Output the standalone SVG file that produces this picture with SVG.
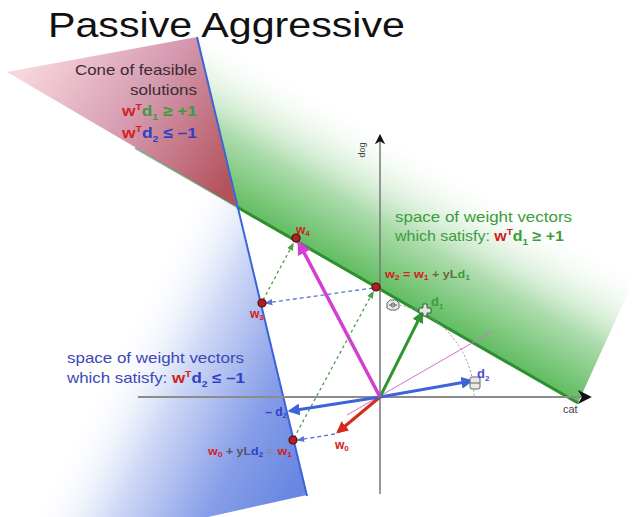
<svg xmlns="http://www.w3.org/2000/svg" width="637" height="517" viewBox="0 0 637 517">
<style>
text{font-family:"Liberation Sans",Arial,sans-serif}
.b{font-weight:bold}
.r{fill:#d42020}
.g{fill:#3c9c3c}
.bl{fill:#3040c4}
.dk{fill:#555566}
.dot{fill:#b02020;stroke:#4a0c0c;stroke-width:1.2}
.icon{fill:#e8e8e8;stroke:#666;stroke-width:1}
</style>
<defs>
<linearGradient id="gGreen" gradientUnits="userSpaceOnUse" x1="237" y1="207" x2="315" y2="70">
<stop offset="0" stop-color="#62bd62"/>
<stop offset="0.38" stop-color="#addcad"/>
<stop offset="0.9" stop-color="#ffffff" stop-opacity="0"/>
</linearGradient>
<linearGradient id="gBlue" gradientUnits="userSpaceOnUse" x1="300" y1="470" x2="80" y2="360">
<stop offset="0" stop-color="#6a88e2"/>
<stop offset="0.25" stop-color="#869de8"/>
<stop offset="0.6" stop-color="#d0daf6"/>
<stop offset="0.9" stop-color="#ffffff" stop-opacity="0"/>
</linearGradient>
<linearGradient id="gCone" gradientUnits="userSpaceOnUse" x1="30" y1="60" x2="225" y2="190">
<stop offset="0" stop-color="#f7d6dc"/>
<stop offset="0.5" stop-color="#d59ab0"/>
<stop offset="1" stop-color="#b4525c"/>
</linearGradient>
<marker id="aRed" viewBox="0 0 10 10" refX="8" refY="5" markerWidth="4" markerHeight="4" orient="auto"><path d="M0,0 L10,5 L0,10 z" fill="#d42a1a"/></marker>
<marker id="aBlue" viewBox="0 0 10 10" refX="8" refY="5" markerWidth="4" markerHeight="4" orient="auto"><path d="M0,0 L10,5 L0,10 z" fill="#3c64d8"/></marker>
<marker id="aGreen" viewBox="0 0 10 10" refX="8" refY="5" markerWidth="4" markerHeight="4" orient="auto"><path d="M0,0 L10,5 L0,10 z" fill="#2f962f"/></marker>
<marker id="aMag" viewBox="0 0 10 10" refX="8" refY="5" markerWidth="4" markerHeight="4" orient="auto"><path d="M0,0 L10,5 L0,10 z" fill="#d23fd2"/></marker>
<marker id="aDB" viewBox="0 0 10 10" refX="8" refY="5" markerWidth="6" markerHeight="6" orient="auto"><path d="M0,1 L10,5 L0,9 z" fill="#5a74d0"/></marker>
<marker id="aDG" viewBox="0 0 10 10" refX="8" refY="5" markerWidth="6" markerHeight="6" orient="auto"><path d="M0,1 L10,5 L0,9 z" fill="#4c9e4c"/></marker>
<marker id="aAx" viewBox="0 0 10 10" refX="8" refY="5" markerWidth="7" markerHeight="7" orient="auto"><path d="M0,0 L10,5 L0,10 L3,5 z" fill="#111"/></marker>
</defs>
<rect width="637" height="517" fill="#ffffff"/>

<g id="regions">
<polygon id="green-region" points="188,0 237,207 578,403 640,266 640,0" fill="url(#gGreen)"/>
<polygon id="blue-region" points="237,207 0,68 0,517 208,517 307,495" fill="url(#gBlue)"/>
<polygon id="cone" points="7,72 197,37 237,207" fill="url(#gCone)"/>
<line x1="135" y1="148" x2="237" y2="207" stroke="#3f7f4f" stroke-width="2" opacity="0.6"/>
<line id="green-boundary" x1="237" y1="207" x2="578" y2="403" stroke="#2d8f2d" stroke-width="3"/>
<line id="blue-boundary" x1="197" y1="37" x2="307" y2="496" stroke="#3c64d8" stroke-width="2"/>
</g>

<g id="axes">
<line x1="138" y1="397" x2="589" y2="397" stroke="#8c8c8c" stroke-width="2" marker-end="url(#aAx)"/>
<line x1="380" y1="494" x2="380" y2="136" stroke="#777" stroke-width="1.5" marker-end="url(#aAx)"/>
<text x="563" y="413" font-size="11" fill="#444">cat</text>
<text transform="translate(365,150) rotate(-90)" font-size="9" fill="#444" text-anchor="middle">dog</text>
</g>

<g id="connectors">
<path d="M388,303.4 A94,94 0 0 1 474,397" fill="none" stroke="#999" stroke-width="1" stroke-dasharray="2 2"/>
<line x1="347" y1="415" x2="493" y2="331" stroke="#d070d0" stroke-width="1"/>
<line x1="380" y1="397" x2="338" y2="432" stroke="#d42a1a" stroke-width="3" marker-end="url(#aRed)"/>
<line x1="380" y1="397" x2="290" y2="411" stroke="#3c64d8" stroke-width="3" marker-end="url(#aBlue)"/>
<line x1="380" y1="397" x2="471" y2="381" stroke="#3c64d8" stroke-width="3" marker-end="url(#aBlue)"/>
<line x1="380" y1="397" x2="422" y2="313" stroke="#2f962f" stroke-width="3" marker-end="url(#aGreen)"/>
<line x1="380" y1="397" x2="299" y2="243" stroke="#d23fd2" stroke-width="3.5" marker-end="url(#aMag)"/>
<line x1="335" y1="434" x2="298" y2="440" stroke="#5a74d0" stroke-width="1.3" stroke-dasharray="4 3" marker-end="url(#aDB)"/>
<line x1="294" y1="438" x2="373" y2="292" stroke="#4c9e4c" stroke-width="1.3" stroke-dasharray="3 3" marker-end="url(#aDG)"/>
<line x1="373" y1="288" x2="266" y2="303" stroke="#5a74d0" stroke-width="1.3" stroke-dasharray="4 3" marker-end="url(#aDB)"/>
<line x1="263" y1="300" x2="293" y2="244" stroke="#4c9e4c" stroke-width="1.3" stroke-dasharray="3 3" marker-end="url(#aDG)"/>
</g>

<g id="icons">
<g id="icon-dog" transform="translate(393,305)"><path class="icon" d="M-6,-2 L-3,-5 L3,-5 L6,-2 L6,3 L3,5 L-3,5 L-6,3 z"/><line x1="-4" y1="0" x2="4" y2="0" stroke="#666"/><circle cx="0" cy="0" r="2" fill="none" stroke="#666"/></g>
<g id="icon-d1" transform="translate(425,310)"><path d="M-6,-2 L-2,-2 L-2,-6 L2,-6 L2,-2 L6,-2 L6,3 L2,3 L2,6 L-2,6 L-2,3 L-6,3 z" fill="#dfe8df" stroke="#3a5a3a" stroke-width="1"/></g>
<g id="icon-d2" transform="translate(475,383)"><rect class="icon" x="-5" y="-6" width="10" height="12" rx="2"/><line x1="-5" y1="0" x2="5" y2="0" stroke="#666"/></g>
</g>

<g id="points">
<circle id="w1" class="dot" cx="293" cy="440" r="4"/>
<circle id="w2" class="dot" cx="376" cy="287" r="4"/>
<circle id="w3" class="dot" cx="262" cy="303" r="4"/>
<circle id="w4" class="dot" cx="296" cy="238" r="4"/>
</g>

<g id="title"><text x="48" y="37" font-size="35" fill="#111" textLength="357" lengthAdjust="spacingAndGlyphs">Passive Aggressive</text></g>

<g id="cone-label" font-size="15" text-anchor="end">
<text x="197" y="75" fill="#3a2c34" textLength="122" lengthAdjust="spacingAndGlyphs">Cone of feasible</text>
<text x="197" y="95" fill="#3a2c34" textLength="67" lengthAdjust="spacingAndGlyphs">solutions</text>
<text x="197" y="116" class="b" textLength="75" lengthAdjust="spacingAndGlyphs"><tspan class="r">w</tspan><tspan class="r" font-size="9" dy="-6">T</tspan><tspan class="g" dy="6">d</tspan><tspan class="g" font-size="9" dy="4">1</tspan><tspan class="g" dy="-4"> ≥ +1</tspan></text>
<text x="197" y="138" class="b" textLength="75" lengthAdjust="spacingAndGlyphs"><tspan class="r">w</tspan><tspan class="r" font-size="9" dy="-6">T</tspan><tspan class="bl" dy="6">d</tspan><tspan class="bl" font-size="9" dy="4">2</tspan><tspan class="bl" dy="-4"> ≤ –1</tspan></text>
</g>

<g id="green-label" font-size="14.5">
<text x="395" y="222" class="g" textLength="177" lengthAdjust="spacingAndGlyphs">space of weight vectors</text>
<text x="395" y="241" textLength="169" lengthAdjust="spacingAndGlyphs"><tspan class="g">which satisfy: </tspan><tspan class="r b">w</tspan><tspan class="r b" font-size="9" dy="-6">T</tspan><tspan class="g b" dy="6">d</tspan><tspan class="g b" font-size="9" dy="4">1</tspan><tspan class="g b" dy="-4"> ≥ +1</tspan></text>
</g>

<g id="blue-label" font-size="14.5">
<text x="67" y="363" fill="#3b48b8" textLength="177" lengthAdjust="spacingAndGlyphs">space of weight vectors</text>
<text x="67" y="383" textLength="178" lengthAdjust="spacingAndGlyphs"><tspan fill="#3b48b8">which satisfy: </tspan><tspan class="r b">w</tspan><tspan class="r b" font-size="9" dy="-6">T</tspan><tspan class="bl b" dy="6">d</tspan><tspan class="bl b" font-size="9" dy="4">2</tspan><tspan class="bl b" dy="-4"> ≤ –1</tspan></text>
</g>

<g id="vector-labels" class="b">
<text x="296" y="234" font-size="12" class="r">w<tspan font-size="8" dy="2">4</tspan></text>
<text x="250" y="318" font-size="12" class="r">w<tspan font-size="8" dy="2">3</tspan></text>
<text x="385" y="278" font-size="11.5" textLength="85" lengthAdjust="spacingAndGlyphs"><tspan class="r">w</tspan><tspan class="r" font-size="8" dy="2">2</tspan><tspan class="r" dy="-2"> = w</tspan><tspan class="r" font-size="8" dy="2">1</tspan><tspan fill="#6a6a3a" dy="-2"> + yL</tspan><tspan class="g">d</tspan><tspan class="g" font-size="8" dy="2">1</tspan></text>
<text x="208" y="455" font-size="11.5" textLength="84" lengthAdjust="spacingAndGlyphs"><tspan class="r">w</tspan><tspan class="r" font-size="8" dy="2">0</tspan><tspan class="dk" dy="-2"> + yL</tspan><tspan class="bl">d</tspan><tspan class="bl" font-size="8" dy="2">2</tspan><tspan fill="#8888a0" dy="-2"> = </tspan><tspan class="r">w</tspan><tspan class="r" font-size="8" dy="2">1</tspan></text>
<text x="335" y="449" font-size="12" class="r">w<tspan font-size="8" dy="2">0</tspan></text>
<text x="287" y="416" font-size="12" class="bl" text-anchor="end">– d<tspan font-size="8" dy="2">2</tspan></text>
<text x="431" y="306" font-size="13" class="g">d<tspan font-size="8" dy="3">1</tspan></text>
<text x="477" y="378" font-size="13" fill="#4a4ad8">d<tspan font-size="8" dy="3">2</tspan></text>
</g>
</svg>
